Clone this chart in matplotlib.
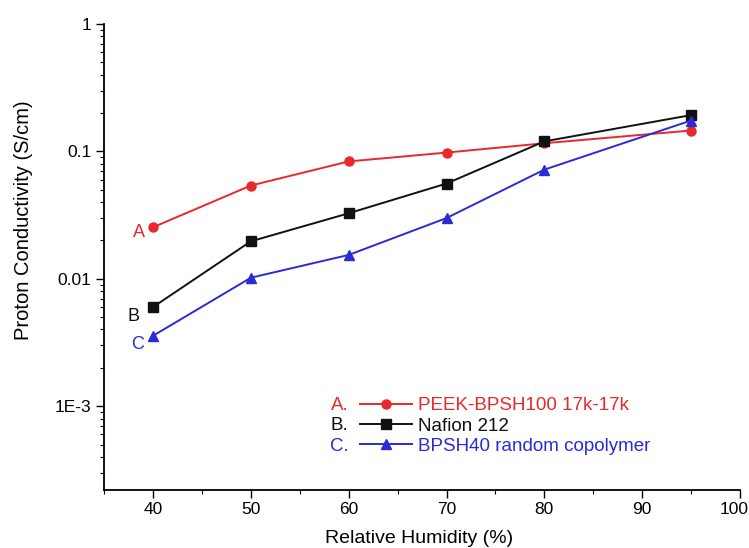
import matplotlib.pyplot as plt
import matplotlib.transforms as mtransforms
from matplotlib.ticker import FixedLocator, NullFormatter, MultipleLocator

plt.rcParams['font.family'] = ['Liberation Sans', 'DejaVu Sans']

rh = [40, 50, 60, 70, 80, 95]
peek = [0.0254, 0.054, 0.0835, 0.098, 0.116, 0.146]
nafion = [0.0060, 0.0197, 0.0327, 0.056, 0.120, 0.193]
bpsh = [0.00357, 0.0102, 0.0154, 0.030, 0.072, 0.175]

names = ['PEEK-BPSH100 17k-17k', 'Nafion 212', 'BPSH40 random copolymer']
tags = ['A', 'B', 'C']
colors = ['#e8282b', '#111111', '#2a2ad6']
markers = ['o', 's', '^']
tag_offsets = [(-10, -4), (-14, -6.5), (-11, -6.5)]

fig = plt.figure(figsize=(7.49, 5.48), dpi=100)
ax = fig.add_axes([0.139, 0.106, 0.849, 0.850])

lines = []
for ys, name, tag, c, m, off in zip([peek, nafion, bpsh], names, tags, colors, markers, tag_offsets):
    ln, = ax.plot(rh, ys, color=c, marker=m, markersize=6.5, linewidth=1.4, label=name)
    lines.append(ln)
    ax.annotate(tag, (rh[0], ys[0]), xytext=off, textcoords='offset points',
                color=c, fontsize=13, ha='center', va='center')

ax.set_yscale('log')
ax.set_xlim(35, 100)
ax.set_ylim(2.2e-4, 1)
ax.set_yticks([1e-3, 1e-2, 1e-1, 1])
ax.set_yticklabels(['1E-3', '0.01', '0.1', '1'])
ax.yaxis.set_minor_formatter(NullFormatter())
ax.xaxis.set_major_locator(FixedLocator([40, 50, 60, 70, 80, 90, 100]))
ax.xaxis.set_minor_locator(MultipleLocator(5))

for s in ['top', 'right']:
    ax.spines[s].set_visible(False)
for s in ['left', 'bottom']:
    ax.spines[s].set_linewidth(1.3)
ax.tick_params(which='major', length=6, width=1.0, labelsize=12.5, pad=3)
ax.tick_params(which='minor', length=3, width=0.8)

ax.set_xlabel('Relative Humidity (%)', fontsize=14)
ax.set_ylabel('Proton Conductivity (S/cm)', fontsize=14.5)
ax.xaxis.set_label_coords(0.496, -0.085)
ax.yaxis.set_label_coords(-0.112, 0.579)

# the last x label sits at the right edge; nudge it left like the original
last = ax.get_xticklabels()[-1]
last.set_transform(last.get_transform() +
                   mtransforms.ScaledTranslation(-6 / 100, 0, fig.dpi_scale_trans))

leg = ax.legend(handles=lines, loc='upper left', bbox_to_anchor=(0.402, 0.199),
                frameon=False, borderpad=0, borderaxespad=0, handlelength=2.8,
                handletextpad=0.3, labelspacing=0.17, fontsize=13.5)
for txt, c in zip(leg.get_texts(), colors):
    txt.set_color(c)
for i, (tag, c) in enumerate(zip(tags, colors)):
    ax.text(0.356, 0.182 - i * 0.044, tag + '.', transform=ax.transAxes,
            color=c, fontsize=13.5, va='center', ha='left')

fig.savefig('out.png', dpi=100)
